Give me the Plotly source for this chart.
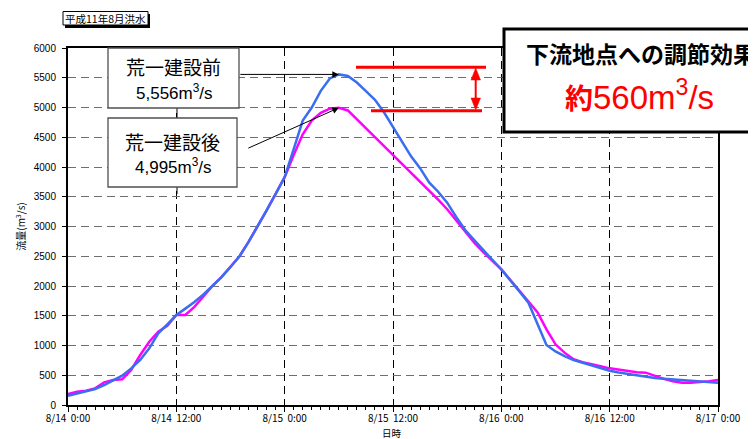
import pandas as pd
import plotly.graph_objects as go

# ---------------- data ----------------
start_time = "1999-08-14 00:00"
n_hours = 73
before_q = [156, 193, 230, 269, 336, 408, 493, 616, 756, 952,
            1204, 1355, 1512, 1620, 1730, 1860, 2000, 2150, 2320, 2500,
            2740, 3000, 3270, 3550, 3830, 4300, 4780, 5000, 5280, 5489,
            5556, 5530, 5420, 5275, 5130, 4920, 4676, 4430, 4180, 3980,
            3740, 3584, 3400, 3160, 2940, 2770, 2600, 2440, 2280, 2100,
            1910, 1720, 1360, 1010, 900, 820, 756, 710, 665, 620,
            577, 545, 520, 500, 475, 455, 440, 430, 420, 405,
            392, 385, 375]
after_q = [185, 224, 240, 280, 381, 420, 431, 588, 840, 1064,
           1232, 1333, 1512, 1512, 1650, 1830, 2000, 2150, 2320, 2500,
           2740, 3000, 3270, 3550, 3830, 4200, 4550, 4780, 4910, 4980,
           4995, 4950, 4800, 4650, 4505, 4355, 4205, 4060, 3910, 3760,
           3600, 3450, 3290, 3100, 2910, 2730, 2570, 2420, 2280, 2100,
           1920, 1740, 1560, 1270, 1020, 880, 770, 720, 690, 650,
           616, 590, 565, 549, 543, 490, 440, 400, 375, 375,
           385, 400, 420]
x_tick_hours = [0, 12, 24, 36, 48, 60, 72]
x_tick_labels = ["8/14\u00a0\u00a00:00", "8/14\u00a0\u00a012:00", "8/15\u00a0\u00a00:00",
                 "8/15\u00a0\u00a012:00", "8/16\u00a0\u00a00:00", "8/16\u00a0\u00a012:00",
                 "8/17\u00a0\u00a00:00"]
x_title = "日時"
y_title = "流量(m<sup>3</sup>/s)"
before_label = "荒一建設前"
after_label = "荒一建設後"
effect_title = "下流地点への調節効果"
effect_value = 560
chart_title = "平成11年8月洪水"

times = pd.date_range(start_time, periods=n_hours, freq="h")
t0 = pd.Timestamp(start_time)
tickvals = [t0 + pd.Timedelta(hours=h) for h in x_tick_hours]

# ---------------- geometry (page pixels -> paper) ----------------
# the page body has an 8px margin, so the figure is shrunk by that offset
OFF = 8
W, H = 756 - OFF, 439 - OFF
L, T = 68 - OFF, 48 - OFF
PW, PH = 650, 357
R, B = W - L - PW, H - T - PH


def px(x):
    return (x - OFF - L) / PW


def py(y):
    return (H - B - (y - OFF)) / PH


fig = go.Figure()
fig.add_trace(go.Scatter(x=times, y=after_q, mode="lines",
                         line=dict(color="#FF00FF", width=2.5), name=after_label))
fig.add_trace(go.Scatter(x=times, y=before_q, mode="lines",
                         line=dict(color="#3A6DF0", width=2.5), name=before_label))

shapes = []
annos = []

# title box with shadow
shapes.append(dict(type="rect", xref="paper", yref="paper", x0=px(65), x1=px(150), y0=py(28), y1=py(14),
                   fillcolor="black", line=dict(width=0), layer="above"))
shapes.append(dict(type="rect", xref="paper", yref="paper", x0=px(63), x1=px(148), y0=py(25), y1=py(11.5),
                   fillcolor="white", line=dict(color="black", width=1), layer="above"))
annos.append(dict(xref="paper", yref="paper", x=px(105.5), y=py(18.5), text=chart_title, showarrow=False,
                  font=dict(size=10.5, color="black", family="Noto Sans CJK JP"), xanchor="center", yanchor="middle"))

# x axis title (placed in the bottom margin)
annos.append(dict(xref="paper", yref="paper", x=px(392), y=py(433), text=x_title, showarrow=False,
                  font=dict(size=9.5, color="black", family="Noto Sans CJK JP"), xanchor="center", yanchor="middle"))

# label boxes
box_line = dict(color="#505050", width=1.3)
shapes.append(dict(type="line", xref="paper", yref="paper", x0=px(177), x1=px(177), y0=py(108), y1=py(118),
                   line=dict(color="black", width=1)))
shapes.append(dict(type="line", xref="paper", yref="paper", x0=px(177), x1=px(177), y0=py(187), y1=py(194),
                   line=dict(color="black", width=1)))
shapes.append(dict(type="rect", xref="paper", yref="paper", x0=px(108), x1=px(239), y0=py(108), y1=py(48),
                   fillcolor="white", line=box_line, layer="above"))
shapes.append(dict(type="rect", xref="paper", yref="paper", x0=px(108), x1=px(237), y0=py(187), y1=py(118),
                   fillcolor="white", line=box_line, layer="above"))

fam = "Liberation Sans, Noto Sans CJK JP"
peak_b = max(before_q)
peak_a = max(after_q)
annos.append(dict(xref="paper", yref="paper", x=px(173), y=py(66.5), text=before_label, showarrow=False,
                  font=dict(size=19, color="black", family="Noto Sans CJK JP"), xanchor="center", yanchor="middle"))
annos.append(dict(xref="paper", yref="paper", x=px(174), y=py(92), text=f"{peak_b:,}m<sup>3</sup>/s",
                  showarrow=False, font=dict(size=17, color="black", family=fam), xanchor="center", yanchor="middle"))
annos.append(dict(xref="paper", yref="paper", x=px(172), y=py(141.5), text=after_label, showarrow=False,
                  font=dict(size=19, color="black", family="Noto Sans CJK JP"), xanchor="center", yanchor="middle"))
annos.append(dict(xref="paper", yref="paper", x=px(173), y=py(166), text=f"{peak_a:,}m<sup>3</sup>/s",
                  showarrow=False, font=dict(size=17, color="black", family=fam), xanchor="center", yanchor="middle"))

# arrows to peaks
tb = times[before_q.index(peak_b)]
ta = times[after_q.index(peak_a)]
annos.append(dict(x=tb, y=peak_b, xref="x", yref="y", ax=-100, ay=0, axref="pixel", ayref="pixel",
                  text="", showarrow=True, arrowhead=2, arrowsize=1.3, arrowwidth=1, arrowcolor="black"))
annos.append(dict(x=ta, y=peak_a, xref="x", yref="y", ax=-92, ay=41, axref="pixel", ayref="pixel",
                  text="", showarrow=True, arrowhead=2, arrowsize=1.3, arrowwidth=1, arrowcolor="black"))

# red difference markers
red = "#FF0000"
shapes.append(dict(type="line", xref="paper", yref="paper", x0=px(356), x1=px(486), y0=py(67.3), y1=py(67.3),
                   line=dict(color=red, width=3)))
shapes.append(dict(type="line", xref="paper", yref="paper", x0=px(371), x1=px(482), y0=py(110.7), y1=py(110.7),
                   line=dict(color=red, width=3)))
shapes.append(dict(type="line", xref="paper", yref="paper", x0=px(475.7), x1=px(475.7), y0=py(78), y1=py(100),
                   line=dict(color=red, width=2)))
shapes.append(dict(type="path", xref="paper", yref="paper",
                   path=f"M {px(471)},{py(80)} L {px(480.5)},{py(80)} L {px(475.7)},{py(68)} Z",
                   fillcolor=red, line=dict(color=red, width=0.5)))
shapes.append(dict(type="path", xref="paper", yref="paper",
                   path=f"M {px(471)},{py(98)} L {px(480.5)},{py(98)} L {px(475.7)},{py(110)} Z",
                   fillcolor=red, line=dict(color=red, width=0.5)))

# effect box
shapes.append(dict(type="rect", xref="paper", yref="paper", x0=px(504), x1=px(790), y0=py(132), y1=py(29),
                   fillcolor="white", line=dict(color="black", width=3), layer="above"))
annos.append(dict(xref="paper", yref="paper", x=px(641), y=py(53), text=f"<b>{effect_title}</b>", showarrow=False,
                  font=dict(size=23, color="black", family="Noto Sans CJK JP"), xanchor="center", yanchor="middle"))
annos.append(dict(xref="paper", yref="paper", x=px(639), y=py(95),
                  text=f"<span style='font-size:28px'><b>約</b></span>{effect_value}m<sup>3</sup>/s",
                  showarrow=False,
                  font=dict(size=33, color=red, family=fam), xanchor="center", yanchor="middle"))

fig.update_layout(
    width=W, height=H,
    margin=dict(l=L, r=R, t=T, b=B),
    paper_bgcolor="white", plot_bgcolor="white",
    showlegend=False,
    font=dict(family="Noto Sans CJK JP", color="black"),
    shapes=shapes, annotations=annos,
)
fig.update_xaxes(
    type="date", range=[t0, t0 + pd.Timedelta(hours=72)],
    tickmode="array", tickvals=tickvals, ticktext=x_tick_labels,
    tickfont=dict(size=10, family="Noto Sans CJK JP", color="black"),
    ticks="outside", ticklen=5, tickcolor="black", tickwidth=1, ticklabelstandoff=-2,
    showline=True, linecolor="black", linewidth=2, mirror=True,
    showgrid=True, gridcolor="black", gridwidth=1, griddash="8px,5px",
    minor=dict(ticks="outside", ticklen=3, tickcolor="black", tickmode="linear",
               tick0=t0, dtick=3600000, showgrid=False),
    automargin=False, zeroline=False,
)
fig.update_yaxes(
    range=[0, 6000], tickmode="linear", tick0=0, dtick=500,
    tickfont=dict(size=10, family="Liberation Sans", color="black"),
    ticks="outside", ticklen=4, tickcolor="black", tickwidth=1, ticklabelstandoff=4,
    showline=True, linecolor="black", linewidth=2, mirror=True,
    showgrid=True, gridcolor="#6e6e6e", gridwidth=1, griddash="8px,5px",
    title=dict(text=y_title, font=dict(size=10, family="Noto Sans CJK JP"), standoff=6),
    automargin=False, zeroline=False,
)

fig.write_html("out.html")
